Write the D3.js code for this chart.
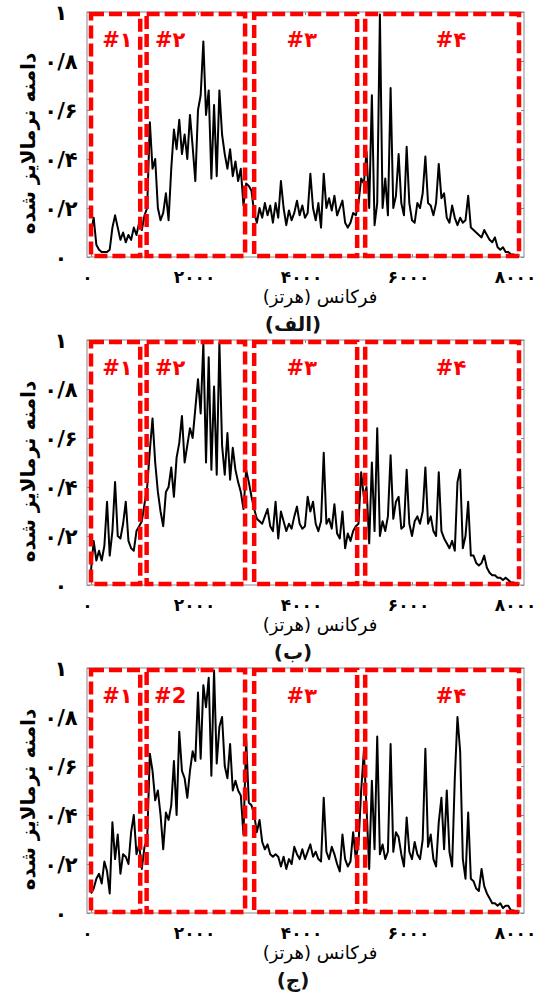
<!DOCTYPE html>
<html>
<head>
<meta charset="utf-8">
<script src="https://cdn.jsdelivr.net/npm/d3@7"></script>
<style>
  body { margin: 0; background: #fff; }
  svg { display: block; }
</style>
</head>
<body>
<div id="chart"></div>
<script>
// --- data (normalised amplitude, every 50 Hz) ---
var freqStep = 50;
var freqs = d3.range(0, 8001, freqStep);

var ampA = [
  0.10, 0.16, 0.05, 0.03, 0.02, 0.02, 0.02, 0.03, 0.12, 0.17,
  0.12, 0.07, 0.10, 0.06, 0.09, 0.07, 0.12, 0.09, 0.14, 0.11,
  0.17, 0.20, 0.55, 0.36, 0.40, 0.20, 0.15, 0.18, 0.26, 0.15,
  0.36, 0.52, 0.44, 0.56, 0.42, 0.50, 0.40, 0.58, 0.45, 0.31,
  0.60, 0.66, 0.88, 0.58, 0.68, 0.32, 0.62, 0.33, 0.68, 0.50,
  0.42, 0.36, 0.44, 0.33, 0.39, 0.31, 0.36, 0.21, 0.30, 0.29,
  0.27, 0.18, 0.14, 0.20, 0.16, 0.22, 0.17, 0.21, 0.14, 0.22,
  0.16, 0.31, 0.20, 0.13, 0.19, 0.15, 0.18, 0.23, 0.17, 0.21,
  0.16, 0.18, 0.34, 0.20, 0.15, 0.22, 0.12, 0.34, 0.20, 0.24,
  0.19, 0.25, 0.17, 0.20, 0.23, 0.14, 0.12, 0.14, 0.18, 0.17,
  0.22, 0.32, 0.30, 0.43, 0.20, 0.66, 0.13, 0.22, 0.99, 0.20,
  0.32, 0.17, 0.69, 0.20, 0.25, 0.42, 0.22, 0.17, 0.45, 0.22,
  0.15, 0.14, 0.22, 0.20, 0.26, 0.41, 0.22, 0.21, 0.17, 0.22,
  0.38, 0.24, 0.26, 0.16, 0.14, 0.21, 0.16, 0.13, 0.16, 0.14,
  0.15, 0.25, 0.12, 0.11, 0.10, 0.09, 0.08, 0.11, 0.09, 0.07,
  0.06, 0.08, 0.04, 0.03, 0.04, 0.02, 0.02, 0.01, 0.01, 0.00, 0.00
];

var ampB = [
  0.06, 0.18, 0.10, 0.14, 0.10, 0.16, 0.34, 0.12, 0.22, 0.42,
  0.20, 0.19, 0.25, 0.34, 0.18, 0.15, 0.14, 0.22, 0.24, 0.26,
  0.33, 0.40, 0.55, 0.68, 0.50, 0.38, 0.30, 0.24, 0.38, 0.40,
  0.48, 0.36, 0.52, 0.58, 0.69, 0.50, 0.57, 0.64, 0.60, 0.72,
  0.84, 0.70, 0.99, 0.50, 0.93, 0.47, 0.81, 0.45, 0.99, 0.57,
  0.45, 0.62, 0.43, 0.56, 0.47, 0.42, 0.38, 0.31, 0.47, 0.42,
  0.36, 0.31, 0.27, 0.26, 0.25, 0.28, 0.31, 0.24, 0.22, 0.34,
  0.19, 0.30, 0.26, 0.22, 0.25, 0.23, 0.28, 0.32, 0.25, 0.23,
  0.24, 0.36, 0.30, 0.34, 0.25, 0.22, 0.26, 0.54, 0.25, 0.27,
  0.23, 0.33, 0.21, 0.19, 0.30, 0.15, 0.21, 0.18, 0.22, 0.24,
  0.25, 0.46, 0.36, 0.40, 0.17, 0.50, 0.22, 0.64, 0.20, 0.26,
  0.22, 0.28, 0.53, 0.27, 0.34, 0.36, 0.23, 0.24, 0.47, 0.25,
  0.20, 0.26, 0.28, 0.25, 0.30, 0.48, 0.25, 0.28, 0.22, 0.20,
  0.46, 0.22, 0.19, 0.17, 0.15, 0.18, 0.14, 0.42, 0.47, 0.15,
  0.20, 0.34, 0.12, 0.12, 0.09, 0.08, 0.09, 0.12, 0.07, 0.05,
  0.04, 0.04, 0.03, 0.03, 0.02, 0.03, 0.02, 0.01, 0.01, 0.00, 0.00
];

var ampC = [
  0.08, 0.10, 0.14, 0.16, 0.12, 0.21, 0.17, 0.08, 0.37, 0.22,
  0.32, 0.16, 0.24, 0.23, 0.20, 0.33, 0.40, 0.24, 0.28, 0.18,
  0.27, 0.30, 0.65, 0.58, 0.46, 0.50, 0.40, 0.26, 0.41, 0.38,
  0.44, 0.62, 0.40, 0.74, 0.58, 0.55, 0.47, 0.58, 0.66, 0.62,
  0.90, 0.63, 0.93, 0.84, 0.96, 0.56, 0.99, 0.61, 0.76, 0.80,
  0.60, 0.55, 0.69, 0.50, 0.54, 0.50, 0.48, 0.32, 0.71, 0.45,
  0.44, 0.40, 0.33, 0.38, 0.29, 0.26, 0.28, 0.24, 0.23, 0.24,
  0.23, 0.19, 0.23, 0.18, 0.22, 0.20, 0.27, 0.24, 0.22, 0.26,
  0.22, 0.25, 0.28, 0.23, 0.25, 0.22, 0.21, 0.47, 0.25, 0.22,
  0.27, 0.24, 0.20, 0.17, 0.32, 0.22, 0.19, 0.21, 0.33, 0.22,
  0.28, 0.50, 0.66, 0.43, 0.18, 0.54, 0.26, 0.72, 0.24, 0.28,
  0.22, 0.25, 0.69, 0.25, 0.33, 0.31, 0.24, 0.19, 0.39, 0.25,
  0.22, 0.29, 0.24, 0.22, 0.30, 0.67, 0.27, 0.32, 0.22, 0.19,
  0.37, 0.47, 0.26, 0.50, 0.25, 0.19, 0.55, 0.80, 0.66, 0.22,
  0.14, 0.41, 0.14, 0.13, 0.10, 0.09, 0.18, 0.11, 0.08, 0.06,
  0.04, 0.04, 0.03, 0.04, 0.02, 0.03, 0.03, 0.01, 0.01, 0.00, 0.00
];

var captions = ["(الف)", "(ب)", "(ج)"];
var regionLabelsA = ["#۱", "#۲", "#۳", "#۴"];
var regionLabelsB = ["#۱", "#۲", "#۳", "#۴"];
var regionLabelsC = ["#۱", "#2", "#۳", "#۴"];
var regionStart = [0, 1040, 3050, 5125];
var regionEnd = [920, 2880, 4975, 8000];

var xTicks = [0, 2000, 4000, 6000, 8000];
var xTickLabels = ["۰", "۲۰۰۰", "۴۰۰۰", "۶۰۰۰", "۸۰۰۰"];
var yTicks = [0, 0.2, 0.4, 0.6, 0.8, 1];
var yTickLabels = ["۰", "۰/۲", "۰/۴", "۰/۶", "۰/۸", "۱"];
var xTitle = "فرکانس (هرتز)";
var yTitle = "دامنه نرمالایز شده";

// --- layout ---
var svgWidth = 545;
var svgHeight = 992;
var plotLeft = 87;
var plotRight = 524;
var plotHeight = 245;
var panelTops = [12, 340, 668];
var labelFreq = [495, 1480, 3940, 6730];   // where the #n tags sit
var fontFa = "'DejaVu Sans', sans-serif";

var svg = d3.select("#chart")
    .append("svg")
    .attr("width", svgWidth)
    .attr("height", svgHeight)
    .style("background", "#fff");

var x = d3.scaleLinear().domain([0, 8000]).range([91, 519]);
var y = d3.scaleLinear().domain([0, 1]).range([plotHeight, 0]);

var spectrumLine = d3.line()
    .x((d, i) => x(freqs[i]))
    .y(d => y(d));

var panels = [
    { amp: ampA, tags: regionLabelsA, caption: captions[0] },
    { amp: ampB, tags: regionLabelsB, caption: captions[1] },
    { amp: ampC, tags: regionLabelsC, caption: captions[2] }
];

panels.forEach(function (p, k) {
    var g = svg.append("g")
        .attr("transform", `translate(0, ${panelTops[k]})`);

    // frame
    g.append("rect")
        .attr("x", plotLeft)
        .attr("y", 0)
        .attr("width", plotRight - plotLeft)
        .attr("height", plotHeight)
        .attr("fill", "none")
        .attr("stroke", "#888")
        .attr("stroke-width", 1);

    // left axis with labels
    g.append("g")
        .attr("transform", `translate(${plotLeft}, 0)`)
        .call(d3.axisLeft(y).tickValues(yTicks).tickSize(-3)
            .tickFormat((d, i) => yTickLabels[i]))
        .call(a => {
            a.select(".domain").remove();
            a.selectAll("line").attr("stroke", "#888");
            a.selectAll("text")
                .attr("x", -26)
                .attr("dy", "0.35em")
                .attr("text-anchor", "middle")
                .style("font-family", fontFa)
                .style("font-weight", "bold")
                .style("font-size", "21px")
                .attr("fill", "#000");
        });

    // right / top axes: ticks only
    g.append("g")
        .attr("transform", `translate(${plotRight}, 0)`)
        .call(d3.axisRight(y).tickValues(yTicks).tickSize(-3).tickFormat(""))
        .call(a => { a.select(".domain").remove(); a.selectAll("line").attr("stroke", "#888"); });

    g.append("g")
        .call(d3.axisTop(x).tickValues(xTicks).tickSize(-3).tickFormat(""))
        .call(a => { a.select(".domain").remove(); a.selectAll("line").attr("stroke", "#888"); });

    // bottom axis
    g.append("g")
        .attr("transform", `translate(0, ${plotHeight})`)
        .call(d3.axisBottom(x).tickValues(xTicks).tickSize(-3)
            .tickFormat((d, i) => xTickLabels[i]))
        .call(a => {
            a.select(".domain").remove();
            a.selectAll("line").attr("stroke", "#888");
            a.selectAll("text")
                .attr("y", 20)
                .attr("dx", -4)
                .attr("dy", "0.35em")
                .style("font-family", fontFa)
                .style("font-weight", "bold")
                .style("font-size", "17px")
                .attr("fill", "#000");
        });

    // spectrum
    g.append("path")
        .datum(p.amp)
        .attr("d", spectrumLine)
        .attr("fill", "none")
        .attr("stroke", "#000")
        .attr("stroke-width", 2)
        .attr("stroke-linejoin", "round");

    // dashed red region boxes
    g.selectAll("rect.region")
        .data(regionStart)
        .enter()
        .append("rect")
        .classed("region", true)
        .attr("x", (d, i) => x(d))
        .attr("y", 2)
        .attr("width", (d, i) => x(regionEnd[i]) - x(d))
        .attr("height", plotHeight - 3)
        .attr("fill", "none")
        .attr("stroke", "#ff0000")
        .attr("stroke-width", 4.5)
        .attr("stroke-dasharray", "13 5");

    g.selectAll("text.tag")
        .data(p.tags)
        .enter()
        .append("text")
        .classed("tag", true)
        .attr("x", (d, i) => x(labelFreq[i]))
        .attr("y", 28)
        .attr("dy", "0.35em")
        .attr("text-anchor", "middle")
        .style("font-family", fontFa)
        .style("font-weight", "bold")
        .style("font-size", "21px")
        .attr("fill", "#ff0000")
        .text(d => d);

    // y title
    g.append("text")
        .attr("transform", `translate(28, ${plotHeight / 2 + 9}) rotate(-90)`)
        .attr("text-anchor", "middle")
        .attr("dy", "0.35em")
        .attr("direction", "rtl")
        .style("font-family", fontFa)
        .style("font-weight", "bold")
        .style("font-size", "20px")
        .text(yTitle);

    // x title
    g.append("text")
        .attr("x", 320)
        .attr("y", plotHeight + 40)
        .attr("dy", "0.35em")
        .attr("text-anchor", "middle")
        .attr("direction", "rtl")
        .style("font-family", fontFa)
        .style("font-size", "18px")
        .text(xTitle);

    // caption
    g.append("text")
        .attr("x", 293)
        .attr("y", plotHeight + 67)
        .attr("dy", "0.35em")
        .attr("text-anchor", "middle")
        .attr("direction", "rtl")
        .style("font-family", fontFa)
        .style("font-weight", "bold")
        .style("font-size", "20px")
        .attr("fill", "#111")
        .text(p.caption);
});
</script>
</body>
</html>
